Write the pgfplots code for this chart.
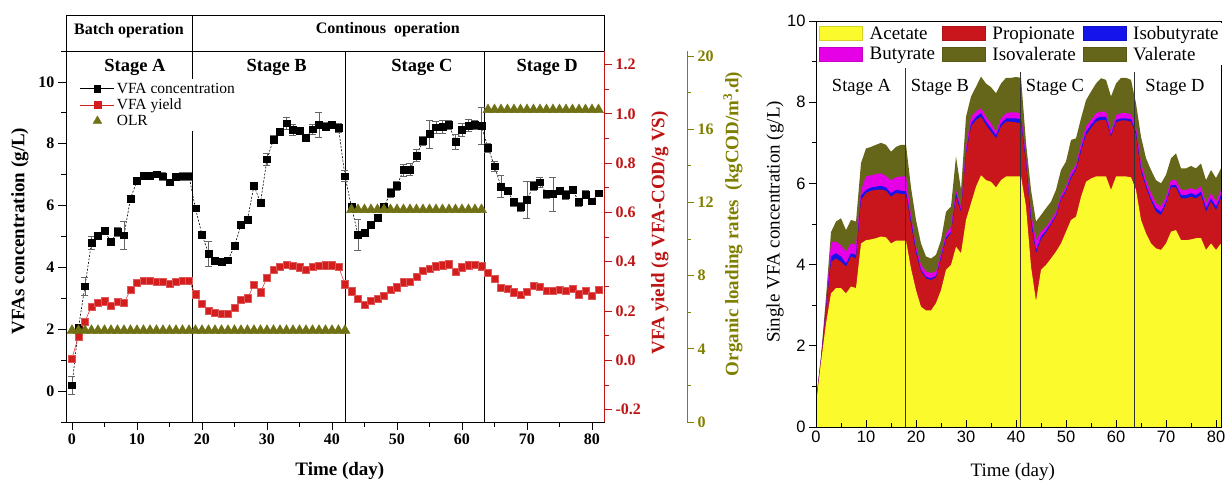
\documentclass[border=0pt]{standalone}
\usepackage{pgfplots}
\usepackage{pgfplotstable}
\pgfplotsset{compat=1.18}
\usepackage{fontspec}
\setmainfont{Liberation Serif}
\setsansfont{Liberation Sans}
\definecolor{cyel}{RGB}{250,250,45}
\definecolor{cred}{RGB}{200,22,28}
\definecolor{cblue}{RGB}{20,20,235}
\definecolor{cmag}{RGB}{230,0,230}
\definecolor{coli}{RGB}{102,102,26}
\definecolor{lred}{RGB}{212,30,30}
\definecolor{axred}{RGB}{190,20,20}
\definecolor{lolive}{RGB}{112,112,20}
\definecolor{axolive}{RGB}{128,128,0}

\pgfplotstableread{
d c e y
0 0.19 0.30 0.008
1 2.05 0.10 0.098
2 3.39 0.28 0.158
3 4.80 0.20 0.219
4 5.03 0.12 0.233
5 5.19 0.10 0.240
6 4.82 0.10 0.222
7 5.15 0.15 0.238
8 5.04 0.45 0.233
9 6.23 0.10 0.286
10 6.80 0.10 0.314
11 6.97 0.12 0.324
12 6.97 0.12 0.322
13 7.01 0.10 0.320
14 6.95 0.12 0.319
15 6.75 0.10 0.310
16 6.92 0.10 0.318
17 6.95 0.12 0.322
18 6.95 0.12 0.322
19 5.91 0.10 0.268
20 5.06 0.10 0.229
21 4.45 0.40 0.201
22 4.21 0.10 0.192
23 4.18 0.08 0.188
24 4.23 0.08 0.188
25 4.69 0.10 0.212
26 5.37 0.10 0.245
27 5.55 0.10 0.252
28 6.65 0.10 0.307
29 6.09 0.10 0.276
30 7.50 0.20 0.336
31 8.14 0.12 0.369
32 8.39 0.10 0.381
33 8.66 0.18 0.389
34 8.46 0.18 0.383
35 8.42 0.12 0.378
36 8.20 0.10 0.367
37 8.47 0.15 0.381
38 8.61 0.40 0.385
39 8.56 0.12 0.386
40 8.61 0.12 0.386
41 8.52 0.15 0.381
42 6.95 0.18 0.309
43 5.96 0.10 0.280
44 5.06 0.50 0.249
45 5.13 0.10 0.224
46 5.39 0.10 0.241
47 5.60 0.10 0.249
48 5.96 0.12 0.262
49 6.42 0.15 0.287
50 6.65 0.15 0.297
51 7.15 0.20 0.317
52 7.17 0.20 0.320
53 7.62 0.20 0.339
54 8.10 0.15 0.362
55 8.31 0.45 0.371
56 8.53 0.20 0.382
57 8.55 0.20 0.386
58 8.62 0.15 0.390
59 8.07 0.25 0.360
60 8.45 0.20 0.378
61 8.59 0.20 0.386
62 8.61 0.15 0.389
63 8.57 0.60 0.382
64 7.88 0.15 0.354
65 7.27 0.15 0.331
66 6.62 0.35 0.295
67 6.47 0.10 0.291
68 6.11 0.12 0.276
69 5.96 0.15 0.267
70 6.18 0.60 0.279
71 6.65 0.15 0.303
72 6.75 0.15 0.300
73 6.37 0.12 0.283
74 6.37 0.55 0.283
75 6.47 0.12 0.287
76 6.34 0.15 0.281
77 6.52 0.10 0.290
78 6.11 0.12 0.268
79 6.36 0.12 0.281
80 6.14 0.10 0.262
81 6.40 0.05 0.287
}\leftdata

\pgfplotstableread{
d A P I B T
0 0.55 0.58 0.60 0.62 0.65
1 1.60 1.65 1.68 1.70 1.75
2 2.55 2.90 2.95 3.00 3.20
3 3.29 4.07 4.20 4.56 4.80
4 3.42 4.15 4.28 4.56 5.06
5 3.42 4.07 4.20 4.48 5.14
6 3.29 3.95 4.03 4.32 4.85
7 3.46 4.20 4.28 4.52 5.10
8 3.42 4.15 4.24 4.48 5.06
9 4.52 5.59 5.70 5.84 6.50
10 4.60 5.76 5.84 6.17 6.86
11 4.62 5.82 5.90 6.20 6.90
12 4.65 5.84 5.92 6.23 6.95
13 4.69 5.85 5.94 6.25 7.00
14 4.67 5.82 5.90 6.18 6.95
15 4.52 5.67 5.76 6.08 6.78
16 4.59 5.76 5.84 6.15 6.90
17 4.59 5.74 5.82 6.17 6.95
18 4.59 5.73 5.81 6.17 6.95
19 3.90 5.00 5.10 5.20 5.90
20 3.37 4.28 4.36 4.44 5.10
21 2.96 3.83 3.87 3.99 4.52
22 2.87 3.66 3.70 3.83 4.20
23 2.87 3.62 3.66 3.79 4.15
24 3.05 3.68 3.72 3.83 4.24
25 3.37 4.15 4.20 4.28 4.60
26 3.87 4.62 4.67 4.77 5.30
27 3.99 4.77 4.81 4.93 5.43
28 4.44 5.67 5.76 5.84 6.66
29 4.28 5.30 5.34 5.43 5.84
30 5.10 6.72 6.78 6.90 7.64
31 5.51 7.40 7.48 7.64 8.14
32 5.92 7.56 7.64 7.77 8.38
33 6.20 7.64 7.73 7.85 8.63
34 6.08 7.44 7.52 7.64 8.46
35 6.04 7.27 7.36 7.48 8.37
36 5.90 7.11 7.19 7.27 8.22
37 6.08 7.40 7.48 7.60 8.46
38 6.17 7.52 7.60 7.73 8.60
39 6.17 7.52 7.60 7.75 8.60
40 6.17 7.50 7.60 7.75 8.62
41 6.17 7.48 7.58 7.72 8.60
42 5.43 6.50 6.58 6.66 7.00
43 3.95 5.02 5.14 5.26 5.84
44 3.10 4.28 4.35 4.60 5.06
45 3.87 4.62 4.69 4.81 5.22
46 3.99 4.79 4.84 4.93 5.39
47 4.15 4.98 5.02 5.10 5.55
48 4.32 5.18 5.22 5.30 5.84
49 4.52 5.59 5.63 5.71 6.33
50 4.81 5.80 5.84 5.92 6.54
51 5.10 6.12 6.18 6.29 7.07
52 5.18 6.33 6.37 6.45 7.11
53 5.67 6.78 6.86 6.99 7.60
54 6.04 7.19 7.27 7.40 8.05
55 6.12 7.36 7.44 7.56 8.26
56 6.17 7.52 7.60 7.73 8.46
57 6.17 7.56 7.64 7.77 8.59
58 6.17 7.56 7.64 7.77 8.55
59 5.84 7.15 7.19 7.27 8.14
60 6.17 7.50 7.56 7.68 8.46
61 6.17 7.55 7.60 7.73 8.60
62 6.17 7.55 7.60 7.73 8.60
63 6.15 7.52 7.58 7.70 8.55
64 5.84 7.19 7.27 7.40 7.97
65 5.10 6.29 6.37 6.50 7.15
66 4.77 5.90 5.96 6.08 6.62
67 4.52 5.57 5.63 5.76 6.33
68 4.40 5.30 5.39 5.51 6.08
69 4.36 5.22 5.30 5.43 6.00
70 4.52 5.49 5.55 5.67 6.21
71 4.81 5.90 5.96 6.08 6.62
72 4.85 5.90 5.96 6.08 6.74
73 4.60 5.63 5.71 5.84 6.37
74 4.60 5.63 5.71 5.84 6.37
75 4.62 5.67 5.76 5.88 6.43
76 4.65 5.63 5.71 5.84 6.37
77 4.65 5.71 5.80 5.92 6.49
78 4.36 5.30 5.39 5.51 6.08
79 4.52 5.55 5.63 5.76 6.33
80 4.36 5.34 5.43 5.55 6.13
81 4.52 5.63 5.71 5.84 6.37
}\rightdata

\begin{document}
\begin{tikzpicture}
\path[use as bounding box] (0,0) rectangle (1226pt,481pt);

% ---------------- left panel: main axis ----------------
\begin{axis}[
  at={(66pt,59pt)}, anchor=south west, scale only axis,
  width=538pt, height=371pt,
  xmin=-0.92, xmax=81.85, ymin=-1, ymax=11,
  axis line style={black, line width=0.9pt},
  xtick={0,10,...,80}, minor xtick={5,15,...,75},
  ytick={0,2,...,10}, minor ytick={-1,1,...,11},
  xtick pos=bottom, ytick pos=left, tick align=outside,
  major tick length=8pt, minor tick length=5pt,
  tick style={black, line width=0.8pt},
  tick label style={font=\fontsize{16}{18}\selectfont\bfseries},
  /pgf/number format/assume math mode=true,
  xlabel={Time (day)}, ylabel={VFAs concentration (g/L)},
  every axis x label/.style={at={(axis description cs:0.509,-0.131)}, anchor=center, font=\fontsize{19}{21}\selectfont\bfseries},
  every axis y label/.style={at={(axis description cs:-0.0855,0.515)}, anchor=center, rotate=90, font=\fontsize{19}{21}\selectfont\bfseries},
  clip=false,
  legend cell align=left,
  legend image code/.code={\draw[mark repeat=2,mark phase=2,#1] plot coordinates {(0pt,0pt) (17pt,0pt) (34pt,0pt)};},
  legend style={at={(axis description cs:0.022,0.925)}, anchor=north west, draw=none, fill=white,
    font=\fontsize{15.5}{17}\selectfont, row sep=0pt, inner sep=2pt},
]
\draw[line width=0.9pt] (axis cs:-0.92,11) rectangle (axis cs:81.85,12.164);
\draw[line width=0.9pt] (axis cs:18.46,-1) -- (axis cs:18.46,12.164);
\draw[line width=0.9pt] (axis cs:42,-1) -- (axis cs:42,11);
\draw[line width=0.9pt] (axis cs:63.5,-1) -- (axis cs:63.5,11);
\node[anchor=base, font=\fontsize{16}{18}\selectfont\bfseries] at (axis cs:8.77,11.52) {Batch operation};
\node[anchor=base, font=\fontsize{16}{18}\selectfont\bfseries] at (axis cs:48.6,11.55) {Continous\ \ operation};
\node[anchor=base, font=\fontsize{18.5}{20}\selectfont\bfseries] at (axis cs:9.7,10.33) {Stage A};
\node[anchor=base, font=\fontsize{18.5}{20}\selectfont\bfseries] at (axis cs:31.5,10.33) {Stage B};
\node[anchor=base, font=\fontsize{18.5}{20}\selectfont\bfseries] at (axis cs:53.85,10.33) {Stage C};
\node[anchor=base, font=\fontsize{18.5}{20}\selectfont\bfseries] at (axis cs:73.1,10.33) {Stage D};
\addplot[black, dash pattern=on 2pt off 1.5pt, line width=0.6pt, mark=square*, mark size=3.4pt,
  mark options={solid, fill=black}, forget plot,
  error bars/.cd, y dir=both, y explicit,
  error bar style={black!60, line width=0.6pt, solid},
  error mark options={rotate=90, mark size=3.5pt, black!60, line width=0.6pt, solid}]
  table[x=d, y=c, y error=e] {\leftdata};
\addlegendimage{black, line width=0.8pt, mark=square*, mark size=3.4pt, mark options={fill=black}}
\addlegendentry{VFA concentration}
\addlegendimage{lred, line width=0.5pt, mark=square*, mark size=3.5pt, mark options={fill=lred}}
\addlegendentry{VFA yield}
\addlegendimage{only marks, mark=triangle*, mark size=5pt, lolive}
\addlegendentry{OLR}
\end{axis}

% ---------------- left panel: yield axis ----------------
\begin{axis}[
  at={(66pt,59pt)}, anchor=south west, scale only axis,
  width=538pt, height=371pt,
  xmin=-0.92, xmax=81.85, ymin=-0.25, ymax=1.255,
  axis x line=none, axis y line*=right,
  y axis line style={axred, line width=0.9pt},
  ytick={-0.2,0,0.2,0.4,0.6,0.8,1.0,1.2},
  minor ytick={-0.1,0.1,0.3,0.5,0.7,0.9,1.1},
  tick align=outside, major tick length=8pt, minor tick length=5pt,
  ytick style={axred, line width=0.8pt},
  /pgf/number format/assume math mode=true,
  yticklabel style={axred, font=\fontsize{16}{18}\selectfont\bfseries,
    /pgf/number format/fixed, /pgf/number format/fixed zerofill, /pgf/number format/precision=1},
  ylabel={VFA yield (g VFA-COD/g VS)},
  every axis y label/.style={at={(axis description cs:1.104,0.51)}, anchor=center, rotate=90, axred, font=\fontsize{19}{21}\selectfont\bfseries},
]
\addplot[lred, line width=0.5pt, mark=square*, mark size=3.6pt, mark options={fill=lred, draw=lred!75!white}]
  table[x=d, y=y] {\leftdata};
\end{axis}

% ---------------- left panel: OLR axis ----------------
\begin{axis}[
  at={(66pt,59pt)}, anchor=south west, scale only axis,
  width=621pt, height=371pt,
  xmin=-0.92, xmax=94.62, ymin=0, ymax=20.27,
  axis x line=none, axis y line*=right,
  y axis line style={axolive, line width=0.9pt},
  ytick={0,4,...,20}, minor ytick={2,6,...,18},
  tick align=outside, major tick length=7pt, minor tick length=4pt,
  ytick style={axolive, line width=0.8pt},
  /pgf/number format/assume math mode=true,
  yticklabel style={axolive, font=\fontsize{16}{18}\selectfont\bfseries},
  ylabel={Organic loading rates\ \ (kgCOD/m\textsuperscript{3}.d)},
  every axis y label/.style={at={(axis description cs:1.074,0.534)}, anchor=center, rotate=90, axolive, font=\fontsize{19}{21}\selectfont\bfseries},
]
\addplot[only marks, mark=triangle*, mark size=5.8pt, lolive] coordinates {
(0,5) (1,5) (2,5) (3,5) (4,5) (5,5) (6,5) (7,5) (8,5) (9,5) (10,5) (11,5) (12,5) (13,5) (14,5)
(15,5) (16,5) (17,5) (18,5) (19,5) (20,5) (21,5) (22,5) (23,5) (24,5) (25,5) (26,5) (27,5) (28,5)
(29,5) (30,5) (31,5) (32,5) (33,5) (34,5) (35,5) (36,5) (37,5) (38,5) (39,5) (40,5) (41,5) (42,5)
(43,11.6) (44,11.6) (45,11.6) (46,11.6) (47,11.6) (48,11.6) (49,11.6) (50,11.6) (51,11.6) (52,11.6)
(53,11.6) (54,11.6) (55,11.6) (56,11.6) (57,11.6) (58,11.6) (59,11.6) (60,11.6) (61,11.6) (62,11.6) (63,11.6)
(64,17.06) (65,17.06) (66,17.06) (67,17.06) (68,17.06) (69,17.06) (70,17.06) (71,17.06) (72,17.06)
(73,17.06) (74,17.06) (75,17.06) (76,17.06) (77,17.06) (78,17.06) (79,17.06) (80,17.06) (81,17.06)
};
\end{axis}

% ---------------- right panel ----------------
\begin{axis}[
  at={(816pt,54pt)}, anchor=south west, scale only axis,
  width=405pt, height=406pt,
  xmin=0, xmax=81, ymin=0, ymax=10,
  axis line style={black, line width=0.8pt},
  axis on top,
  xtick={0,10,...,80}, minor xtick={5,15,...,75},
  ytick={0,2,...,10}, minor ytick={1,3,...,9},
  xtick pos=bottom, ytick pos=left,
  xtick align=inside, ytick align=outside,
  major tick length=7pt, minor tick length=4pt,
  tick style={black, line width=0.8pt},
  tick label style={font=\sffamily\fontsize{16.5}{18}\selectfont},
  /pgf/number format/assume math mode=true,
  xlabel={Time (day)}, ylabel={Single VFA concentration (g/L)},
  every axis x label/.style={at={(axis description cs:0.486,-0.11)}, anchor=center, font=\fontsize{19}{21}\selectfont},
  every axis y label/.style={at={(axis description cs:-0.101,0.505)}, anchor=center, rotate=90, font=\fontsize{19}{21}\selectfont},
  legend columns=3,
  legend cell align=left,
  legend image code/.code={\filldraw[#1] (0pt,-7pt) rectangle (43pt,7pt);},
  legend style={at={(axis description cs:0.005,0.995)}, anchor=north west, draw=none, fill=white,
    font=\fontsize{19}{21}\selectfont, row sep=2pt, inner sep=1pt, column sep=5pt},
]
\addplot[fill=coli, draw=none, forget plot] table[x=d, y=T] {\rightdata} \closedcycle;
\addplot[fill=cmag, draw=none, forget plot] table[x=d, y=B] {\rightdata} \closedcycle;
\addplot[fill=cblue, draw=none, forget plot] table[x=d, y=I] {\rightdata} \closedcycle;
\addplot[fill=cred, draw=none, forget plot] table[x=d, y=P] {\rightdata} \closedcycle;
\addplot[fill=cyel, draw=none, forget plot] table[x=d, y=A] {\rightdata} \closedcycle;
\draw[line width=0.7pt, black!80] (axis cs:17.9,0) -- (axis cs:17.9,8.85);
\draw[line width=0.7pt, black!80] (axis cs:40.85,0) -- (axis cs:40.85,8.75);
\draw[line width=0.7pt, black!80] (axis cs:63.7,0) -- (axis cs:63.7,8.75);
\node[anchor=base, font=\fontsize{18.5}{20}\selectfont] at (axis cs:9.1,8.26) {Stage A};
\node[anchor=base, font=\fontsize{18.5}{20}\selectfont] at (axis cs:24.8,8.26) {Stage B};
\node[anchor=base, font=\fontsize{18.5}{20}\selectfont] at (axis cs:47.8,8.26) {Stage C};
\node[anchor=base, font=\fontsize{18.5}{20}\selectfont] at (axis cs:71.8,8.26) {Stage D};
\addlegendimage{fill=cyel, draw=cyel!85!black, line width=0.4pt}
\addlegendentry{Acetate}
\addlegendimage{fill=cred, draw=cred!85!black, line width=0.4pt}
\addlegendentry{Propionate}
\addlegendimage{fill=cblue, draw=cblue!85!black, line width=0.4pt}
\addlegendentry{Isobutyrate}
\addlegendimage{fill=cmag, draw=cmag!85!black, line width=0.4pt}
\addlegendentry{Butyrate}
\addlegendimage{fill=coli, draw=coli!85!black, line width=0.4pt}
\addlegendentry{Isovalerate}
\addlegendimage{fill=coli, draw=coli!85!black, line width=0.4pt}
\addlegendentry{Valerate}
\end{axis}
\end{tikzpicture}
\end{document}
